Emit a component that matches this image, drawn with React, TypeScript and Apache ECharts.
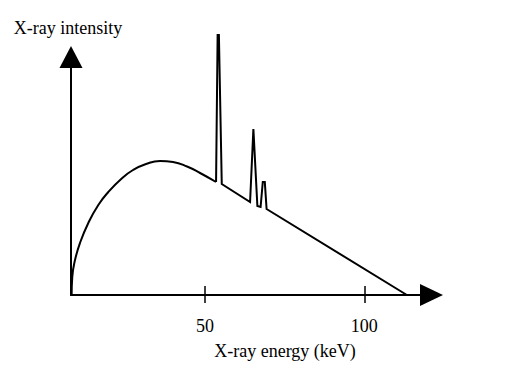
import React, { useEffect, useRef } from "react";
import * as echarts from "echarts";

// Smooth continuous (bremsstrahlung) part: [energy keV, intensity]
const curveEnergy = [8.2, 8.4, 9.26, 10.82, 13.43, 16.57, 19.71, 23.91, 27.46, 31.54, 35.93, 40.02, 44.41, 48.49, 53.51];
const curveIntensity = [0, 18, 35, 52, 72, 90, 103, 116.5, 125, 131, 134, 133, 128.5, 122, 113];

// Characteristic lines and linear tail
const peakEnergy = [53.51, 54.0, 54.4, 55.3, 64.18, 65.22, 66.47, 67.48, 68.17, 68.8, 69.36, 113.37];
const peakIntensity = [113, 260, 260, 111, 93, 166, 89, 88, 113, 113, 86, 0];

const tickValues = [50, 100];
const xMin = 8;
const xMax = 120;
const yMax = 238;

const FONT = '"Liberation Serif", "Times New Roman", serif';

export default function App() {
  const ref = useRef<HTMLDivElement>(null);
  useEffect(() => {
    if (!ref.current) return;
    const chart = echarts.init(ref.current, undefined, { renderer: "svg" });
    const curve = curveEnergy.map((e, i) => [e, curveIntensity[i]]);
    const peaks = peakEnergy.map((e, i) => [e, peakIntensity[i]]);
    chart.setOption({
      animation: false,
      backgroundColor: "#fff",
      grid: { left: 71, right: 92, top: 57, bottom: 71, containLabel: false },
      xAxis: [
        {
          type: "value",
          min: xMin,
          max: xMax,
          position: "bottom",
          splitLine: { show: false },
          axisLine: {
            show: true,
            lineStyle: { color: "#000", width: 2 },
            symbol: ["none", "triangle"],
            symbolSize: [22, 23],
            symbolOffset: [0, 3.5],
          },
          axisTick: {
            show: true,
            inside: true,
            length: 9,
            customValues: tickValues,
            lineStyle: { color: "#000", width: 1.5 },
          },
          axisLabel: {
            show: true,
            customValues: tickValues,
            margin: 22,
            color: "#000",
            fontFamily: FONT,
            fontSize: 18,
          },
        },
        {
          type: "value",
          min: xMin,
          max: xMax,
          position: "bottom",
          splitLine: { show: false },
          axisLine: { show: false },
          axisTick: {
            show: true,
            inside: false,
            length: 8,
            customValues: tickValues,
            lineStyle: { color: "#000", width: 1.5 },
          },
          axisLabel: { show: false },
        },
      ],
      yAxis: {
        type: "value",
        min: 0,
        max: yMax,
        splitLine: { show: false },
        axisTick: { show: false },
        axisLabel: { show: false },
        axisLine: {
          show: true,
          lineStyle: { color: "#000", width: 2 },
          symbol: ["none", "triangle"],
          symbolSize: [23, 22],
          symbolOffset: [0, 0],
        },
      },
      graphic: [
        {
          type: "text",
          x: 68,
          y: 28,
          style: {
            text: "X-ray intensity",
            font: `18px ${FONT}`,
            fill: "#000",
            align: "center",
            verticalAlign: "middle",
          },
        },
        {
          type: "text",
          x: 285,
          y: 351,
          style: {
            text: "X-ray energy (keV)",
            font: `18px ${FONT}`,
            fill: "#000",
            align: "center",
            verticalAlign: "middle",
          },
        },
      ],
      series: [
        {
          type: "line",
          data: curve,
          smooth: 0.5,
          showSymbol: false,
          clip: false,
          lineStyle: { color: "#000", width: 2 },
        },
        {
          type: "line",
          data: peaks,
          smooth: false,
          showSymbol: false,
          clip: false,
          lineStyle: { color: "#000", width: 2, join: "miter" },
        },
      ],
    });
    return () => chart.dispose();
  }, []);
  return (
    <div
      ref={ref}
      style={{ position: "fixed", left: 0, top: 0, width: 520, height: 366 }}
    />
  );
}
